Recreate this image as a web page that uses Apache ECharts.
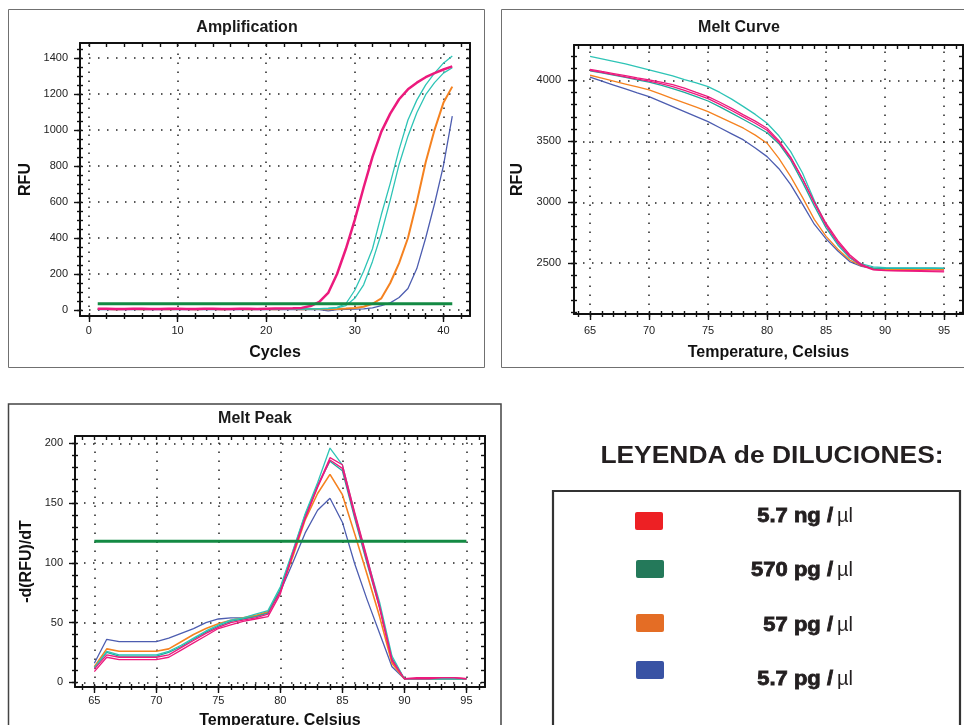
<!DOCTYPE html>
<html>
<head>
<meta charset="utf-8">
<script src="https://cdn.jsdelivr.net/npm/echarts@6/dist/echarts.min.js"></script>
<style>
  html, body { margin: 0; padding: 0; background: #fff; }
  #main { width: 964px; height: 725px; }
</style>
</head>
<body>
<div id="main"></div>
<script>
// ---------- data ----------
const cycles = [1, 2, 3, 4, 5, 6, 7, 8, 9, 10, 11, 12, 13, 14, 15, 16, 17, 18, 19, 20,
  21, 22, 23, 24, 25, 26, 27, 28, 29, 30, 31, 32, 33, 34, 35, 36, 37, 38, 39, 40, 41];

const ampPink = [7, 7, 6, 6, 7, 7, 6, 6, 7, 7, 6, 6, 7, 7, 6, 6, 7, 7, 6, 7, 8, 9, 10,
  12, 22, 45, 95, 200, 340, 500, 680, 850, 990, 1090, 1170, 1225, 1262, 1292, 1315, 1335, 1352];
const ampTealA = [5, 5, 6, 5, 5, 6, 5, 5, 6, 5, 5, 6, 5, 5, 6, 5, 5, 6, 5, 5, 6, 5, 6, 6, 7, 8, 10,
  15, 35, 110, 215, 340, 530, 703, 890, 1055, 1165, 1250, 1315, 1370, 1410];
const ampTealB = [4, 4, 5, 4, 4, 5, 4, 4, 5, 4, 4, 5, 4, 4, 5, 4, 4, 5, 4, 4, 5, 4, 5, 5, 6, 6, 8, 12,
  25, 65, 140, 270, 425, 610, 808, 965, 1095, 1195, 1262, 1315, 1345];
const ampOrange = [6, 6, 5, 6, 6, 5, 6, 6, 5, 6, 6, 5, 6, 6, 5, 6, 6, 5, 6, 6, 5, 6, 6, 5, 6, 6, 5, 6, 8, 11,
  18, 35, 65, 150, 260, 400, 600, 820, 1000, 1150, 1240];
const ampBlue = [3, 3, 4, 3, 3, 4, 3, 3, 4, 3, 3, 4, 3, 3, 4, 3, 3, 4, 3, 3, 4, 3, 3, 4, 3, 2, -5, 2, 4, 5, 7, 12,
  25, 40, 70, 120, 230, 400, 590, 800, 1076];
const ampThreshold = 35;

const temps = [65, 66, 67, 68, 69, 70, 71, 72, 73, 74, 75, 76, 77, 78, 79, 80,
  81, 82, 83, 84, 85, 86, 87, 88, 89, 90, 91, 92, 93, 94, 95];

const mcTealA = [4195, 4175, 4155, 4135, 4110, 4085, 4060, 4035, 4005, 3978, 3948, 3900, 3845, 3784, 3720, 3648,
  3545, 3415, 3240, 3015, 2815, 2655, 2545, 2495, 2470, 2463, 2462, 2462, 2461, 2461, 2460];
const mcPinkA = [4090, 4072, 4055, 4038, 4020, 4003, 3985, 3965, 3935, 3900, 3866, 3820, 3770, 3716, 3665, 3607,
  3505, 3370, 3195, 2995, 2810, 2670, 2555, 2480, 2445, 2440, 2438, 2436, 2434, 2432, 2430];
const mcPinkB = [4082, 4064, 4046, 4028, 4010, 3992, 3972, 3948, 3918, 3885, 3850, 3802, 3752, 3700, 3648, 3590,
  3492, 3362, 3192, 3002, 2826, 2686, 2570, 2490, 2450, 2442, 2440, 2440, 2439, 2438, 2437];
const mcTealB = [4078, 4060, 4042, 4024, 4004, 3985, 3960, 3932, 3900, 3866, 3830, 3782, 3730, 3678, 3625, 3570,
  3480, 3345, 3165, 2970, 2790, 2650, 2545, 2482, 2460, 2458, 2458, 2458, 2458, 2458, 2458];
const mcOrange = [4041, 4017, 3993, 3969, 3945, 3921, 3886, 3850, 3815, 3780, 3743, 3698, 3653, 3607, 3550, 3484,
  3360, 3210, 3040, 2860, 2720, 2615, 2527, 2478, 2455, 2450, 2450, 2449, 2449, 2448, 2448];
const mcBlue = [4025, 3993, 3961, 3929, 3897, 3866, 3825, 3784, 3743, 3702, 3661, 3611, 3561, 3511, 3445, 3374,
  3275, 3145, 2985, 2820, 2700, 2600, 2514, 2475, 2460, 2458, 2458, 2457, 2457, 2457, 2456];

const mpBlue = [16, 36, 34, 34, 34, 34, 37, 41, 45, 50, 53, 54, 54, 55, 59, 76,
  100, 125, 144, 154, 134, 99, 69, 41, 13, 3, 3, 3, 3, 3, 3];
const mpOrange = [13, 28, 26, 26, 26, 26, 28, 34, 40, 45, 49, 52, 54, 56, 59, 77,
  105, 136, 158, 174, 157, 124, 90, 55, 16, 3, 3, 3, 3, 3, 3];
const mpTealB = [12, 25, 22, 22, 22, 22, 25, 30, 36, 42, 47, 51, 53, 55, 58, 78,
  109, 140, 165, 185, 177, 137, 99, 63, 20, 3, 3, 3, 3, 3, 3];
const mpTealA = [12, 26, 23, 23, 23, 23, 26, 31, 37, 43, 48, 52, 54, 57, 60, 80,
  110, 141, 167, 196, 182, 141, 103, 67, 22, 3, 3, 3, 3, 3, 3];
const mpPinkB = [11, 23, 21, 21, 21, 21, 23, 29, 35, 41, 46, 50, 52, 54, 57, 76,
  107, 137, 163, 186, 179, 139, 101, 62, 18, 3, 3, 3, 4, 4, 3];
const mpPinkA = [9, 21, 19, 19, 19, 19, 21, 27, 33, 39, 45, 48, 51, 53, 55, 74,
  108, 138, 164, 188, 182, 142, 104, 64, 19, 3, 4, 4, 4, 4, 3];
const mpThreshold = 118;

// tick labels
const ampXTicks = [0, 10, 20, 30, 40];
const ampYTicks = [0, 200, 400, 600, 800, 1000, 1200, 1400];
const mcXTicks = [65, 70, 75, 80, 85, 90, 95];
const mcYTicks = [2500, 3000, 3500, 4000];
const mpXTicks = [65, 70, 75, 80, 85, 90, 95];
const mpYTicks = [0, 50, 100, 150, 200];

const legendLabels = ['5.7 ng /', '570 pg /', '57 pg /', '5.7 pg /'];
const legendUnit = 'µl';
const legendColors = ['#ED2024', '#24795A', '#E46D25', '#3953A4'];

// ---------- styles ----------
const FONT = '"Liberation Sans", Arial, sans-serif';
const C = {
  pink: '#EC1A7D', teal: '#2EC4B6', tealDark: '#1FA99C',
  orange: '#F58220', blue: '#4D5DB0', green: '#138A43'
};
const tickStyle = { color: '#111', width: 1.4 };
const frameLine = { show: true, onZero: false, lineStyle: { color: '#111', width: 2 } };

function steps(a, b, s) {
  const out = [];
  for (let v = a; v <= b + 1e-9; v += s) out.push(v);
  return out;
}

// 4 axes per side: labelled frame side, inner minor ticks, long major ticks, opposite frame side
function sideAxes(kind, p) {
  const near = kind === 'x' ? 'bottom' : 'left';
  const far = kind === 'x' ? 'top' : 'right';
  const base = { type: 'value', gridIndex: p.grid, min: p.min, max: p.max, splitLine: { show: false } };
  return [
    Object.assign({}, base, {
      position: near, name: p.name, nameLocation: 'middle', nameGap: p.gap,
      nameTextStyle: { fontFamily: FONT, fontSize: 16, fontWeight: 'bold', color: '#111' },
      axisLine: frameLine,
      axisTick: { show: true, inside: false, length: 3, customValues: p.minor, lineStyle: tickStyle },
      axisLabel: {
        show: true, customValues: p.major, margin: p.margin,
        fontFamily: FONT, fontSize: 11, color: '#222',
        formatter: v => String(v)
      }
    }),
    Object.assign({}, base, {
      position: near, axisLine: { show: false, onZero: false },
      axisTick: { show: true, inside: true, length: 3, customValues: p.minor, lineStyle: tickStyle },
      axisLabel: { show: false }
    }),
    Object.assign({}, base, {
      position: near, axisLine: { show: false, onZero: false },
      axisTick: { show: true, inside: false, length: 6, customValues: p.major, lineStyle: tickStyle },
      axisLabel: { show: false }
    }),
    Object.assign({}, base, {
      position: far, axisLine: frameLine,
      axisTick: { show: true, inside: true, length: 4, customValues: p.minor, lineStyle: tickStyle },
      axisLabel: { show: false }
    })
  ];
}

function curve(grid, xs, ys, color, width) {
  return {
    type: 'line', xAxisIndex: grid * 4, yAxisIndex: grid * 4,
    data: xs.map((x, i) => [x, ys[i]]),
    symbol: 'none', showSymbol: false, silent: true, z: 3,
    lineStyle: { color: color, width: width }, itemStyle: { color: color }
  };
}

function threshold(grid, x0, x1, y) {
  return {
    type: 'line', xAxisIndex: grid * 4, yAxisIndex: grid * 4,
    data: [[x0, y], [x1, y]], symbol: 'none', silent: true, z: 4,
    lineStyle: { color: C.green, width: 3 }
  };
}

function dottedGrid(grid, xs, ys, x0, y0) {
  return {
    type: 'line', xAxisIndex: grid * 4, yAxisIndex: grid * 4,
    data: [[x0, y0]], symbol: 'none', silent: true, z: 1,
    markLine: {
      z: 1, silent: true, symbol: ['none', 'none'], label: { show: false },
      lineStyle: { color: '#222', width: 1.5, type: [1.5, 7.5] },
      emphasis: { disabled: true },
      data: xs.map(v => ({ xAxis: v })).concat(ys.map(v => ({ yAxis: v })))
    }
  };
}

const xAxes = [].concat(
  sideAxes('x', { grid: 0, min: -1, max: 43, minor: steps(0, 42, 2), major: ampXTicks, name: 'Cycles', gap: 29, margin: 9 }),
  sideAxes('x', { grid: 1, min: 63.64, max: 96.6, minor: steps(64, 96, 1), major: mcXTicks, name: 'Temperature, Celsius', gap: 31, margin: 11 }),
  sideAxes('x', { grid: 2, min: 63.44, max: 96.5, minor: steps(64, 96, 1), major: mpXTicks, name: 'Temperature, Celsius', gap: 26, margin: 8 })
);
const yAxes = [].concat(
  sideAxes('y', { grid: 0, min: -33, max: 1482, minor: steps(0, 1450, 50), major: ampYTicks, name: 'RFU', gap: 46, margin: 12 }),
  sideAxes('y', { grid: 1, min: 2084, max: 4289, minor: steps(2100, 4200, 100), major: mcYTicks, name: 'RFU', gap: 48, margin: 13 }),
  sideAxes('y', { grid: 2, min: -3.9, max: 206.1, minor: steps(0, 200, 10), major: mpYTicks, name: '-d(RFU)/dT', gap: 40, margin: 12 })
);

const series = [
  dottedGrid(0, ampXTicks, ampYTicks, -1, -33),
  curve(0, cycles, ampBlue, C.blue, 1.3),
  curve(0, cycles, ampOrange, C.orange, 2),
  curve(0, cycles, ampTealB, C.teal, 1.3),
  curve(0, cycles, ampTealA, C.teal, 1.3),
  curve(0, cycles, ampPink, C.pink, 2.5),
  threshold(0, cycles[0], cycles[cycles.length - 1], ampThreshold),

  dottedGrid(1, mcXTicks, mcYTicks, 63.64, 2084),
  curve(1, temps, mcBlue, C.blue, 1.3),
  curve(1, temps, mcOrange, C.orange, 1.3),
  curve(1, temps, mcTealB, C.tealDark, 1.3),
  curve(1, temps, mcTealA, C.teal, 1.3),
  curve(1, temps, mcPinkB, C.pink, 1.3),
  curve(1, temps, mcPinkA, C.pink, 1.3),

  dottedGrid(2, mpXTicks, mpYTicks, 63.44, -3.9),
  curve(2, temps, mpBlue, C.blue, 1.3),
  curve(2, temps, mpOrange, C.orange, 1.6),
  curve(2, temps, mpTealB, C.tealDark, 1.3),
  curve(2, temps, mpTealA, C.teal, 1.3),
  curve(2, temps, mpPinkB, C.pink, 1.3),
  curve(2, temps, mpPinkA, C.pink, 1.3),
  threshold(2, temps[0], temps[temps.length - 1], mpThreshold)
];

// ---------- frames, titles, legend box ----------
const titleFont = 'bold 16px ' + FONT;
const graphic = [
  { type: 'rect', silent: true, shape: { x: 8.5, y: 9.5, width: 476, height: 358 }, style: { fill: 'none', stroke: '#707070', lineWidth: 1 } },
  { type: 'rect', silent: true, shape: { x: 501.5, y: 9.5, width: 480, height: 358 }, style: { fill: 'none', stroke: '#707070', lineWidth: 1 } },
  { type: 'rect', silent: true, shape: { x: 8.5, y: 404, width: 492.5, height: 340 }, style: { fill: 'none', stroke: '#444', lineWidth: 1.5 } },
  { type: 'text', silent: true, x: 247, y: 28, style: { text: 'Amplification', textAlign: 'center', textVerticalAlign: 'middle', font: titleFont, fill: '#1a1a1a' } },
  { type: 'text', silent: true, x: 739, y: 28, style: { text: 'Melt Curve', textAlign: 'center', textVerticalAlign: 'middle', font: titleFont, fill: '#1a1a1a' } },
  { type: 'text', silent: true, x: 255, y: 419, style: { text: 'Melt Peak', textAlign: 'center', textVerticalAlign: 'middle', font: titleFont, fill: '#1a1a1a' } },
  { type: 'text', silent: true, x: 772, y: 456, scaleX: 1.1, style: { text: 'LEYENDA de DILUCIONES:', textAlign: 'center', textVerticalAlign: 'middle', font: 'bold 24px ' + FONT, fill: '#231F20' } },
  { type: 'rect', silent: true, shape: { x: 553, y: 491, width: 407, height: 260 }, style: { fill: 'none', stroke: '#333', lineWidth: 2.2 } }
];

const swatchX = [635, 636, 636, 636];
const swatchY = [512, 560, 614, 661];
const labelY = [516, 570, 625, 679];
legendLabels.forEach((txt, i) => {
  graphic.push({ type: 'rect', silent: true, shape: { x: swatchX[i], y: swatchY[i], width: 28, height: 18, r: 2 }, style: { fill: legendColors[i] } });
  graphic.push({ type: 'text', silent: true, x: 833, y: labelY[i], scaleX: 1.1,
    style: { text: txt, textAlign: 'right', textVerticalAlign: 'middle', font: 'bold 20px ' + FONT, fill: '#231F20', stroke: '#231F20', lineWidth: 0.8 } });
  graphic.push({ type: 'text', silent: true, x: 853, y: labelY[i],
    style: { text: legendUnit, textAlign: 'right', textVerticalAlign: 'middle', font: '20px ' + FONT, fill: '#231F20' } });
});

const chart = echarts.init(document.getElementById('main'), null, { renderer: 'canvas' });
chart.setOption({
  animation: false,
  backgroundColor: '#fff',
  grid: [
    { left: 80, top: 43, width: 390, height: 273, outerBoundsMode: 'none' },
    { left: 574, top: 45, width: 389, height: 269, outerBoundsMode: 'none' },
    { left: 75, top: 436, width: 410, height: 251, outerBoundsMode: 'none' }
  ],
  xAxis: xAxes,
  yAxis: yAxes,
  series: series,
  graphic: graphic
});
</script>
</body>
</html>
